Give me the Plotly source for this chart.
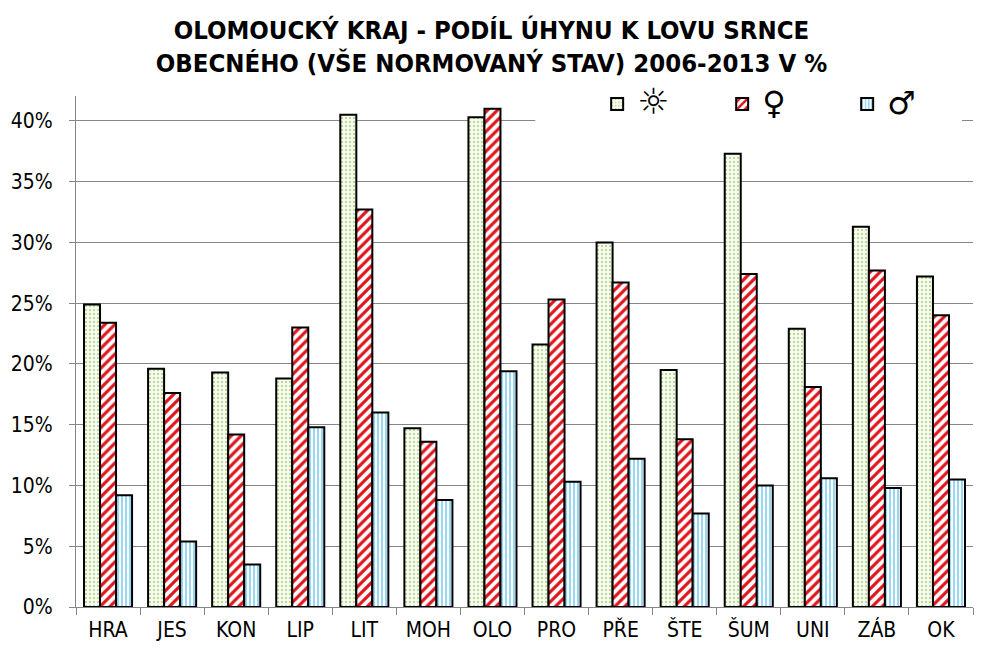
import plotly.graph_objects as go

categories = ["HRA", "JES", "KON", "LIP", "LIT", "MOH", "OLO", "PRO", "PŘE", "ŠTE", "ŠUM", "UNI", "ZÁB", "OK"]
series_names = ["☼", "♀", "♂"]
total = [24.9, 19.6, 19.3, 18.8, 40.5, 14.7, 40.3, 21.6, 30.0, 19.5, 37.3, 22.9, 31.3, 27.2]
female = [23.4, 17.6, 14.2, 23.0, 32.7, 13.6, 41.0, 25.3, 26.7, 13.8, 27.4, 18.1, 27.7, 24.0]
male = [9.2, 5.4, 3.5, 14.8, 16.0, 8.8, 19.4, 10.3, 12.2, 7.7, 10.0, 10.6, 9.8, 10.5]
y_ticks = [0, 5, 10, 15, 20, 25, 30, 35, 40]

FONT = "DejaVu Sans Condensed"

patterns = [
    dict(shape=".", bgcolor="#f8fbec", fgcolor="#a3cf7e", size=4, solidity=0.2, fillmode="replace"),
    dict(shape="/", bgcolor="#ffffff", fgcolor="#e0141c", size=7, solidity=0.45, fillmode="replace"),
    dict(shape="|", bgcolor="#ffffff", fgcolor="#45b8e3", size=4, solidity=0.28, fillmode="replace"),
]
symbol_sizes = [36, 32, 32]

fig = go.Figure()
for name, vals, pat, ss in zip(series_names, [total, female, male], patterns, symbol_sizes):
    fig.add_trace(go.Bar(
        x=categories, y=vals,
        name=f'<span style="font-size:{ss}px">{name}</span>',
        marker=dict(color=pat["bgcolor"], pattern=pat, line=dict(color="black", width=2)),
    ))

fig.update_layout(
    width=983, height=662,
    margin=dict(l=76, r=10, t=96, b=55, autoexpand=False),
    paper_bgcolor="white", plot_bgcolor="white",
    barmode="group", bargap=0.25, bargroupgap=0,
    title=dict(
        text="OLOMOUCKÝ KRAJ - PODÍL ÚHYNU K LOVU SRNCE<br>OBECNÉHO (VŠE NORMOVANÝ STAV) 2006-2013 V %",
        x=0.5, xanchor="center", y=0.941, yanchor="middle",
        font=dict(family=FONT, size=25.5, color="black", weight="bold"),
    ),
    font=dict(family=FONT, size=21, color="black"),
    showlegend=True,
    legend=dict(
        orientation="h", x=0.581, xanchor="left", y=0.984, yanchor="middle",
        bgcolor="rgba(0,0,0,0)", font=dict(family="DejaVu Sans", size=26, color="black"),
        entrywidth=80, entrywidthmode="pixels", itemclick=False,
    ),
    shapes=[dict(type="rect", xref="paper", yref="paper", x0=0.512, x1=0.9877, y0=0.94, y1=1.012,
                 fillcolor="white", line=dict(width=0), layer="above")],
)

fig.update_xaxes(
    showline=True, linecolor="#868686", linewidth=1,
    ticks="outside", tickson="boundaries", ticklen=7, tickcolor="#868686",
    showgrid=False, tickfont=dict(family=FONT, size=21, color="black"),
    ticklabelstandoff=4, tickangle=0,
)
fig.update_yaxes(
    range=[0, 42.05], tickvals=y_ticks, ticktext=[f"{v}%" for v in y_ticks],
    showline=True, linecolor="#868686", linewidth=1,
    ticks="outside", ticklen=6, tickcolor="#868686",
    showgrid=True, gridcolor="#868686", gridwidth=1, zeroline=False,
    tickfont=dict(family=FONT, size=21, color="black"), ticklabelstandoff=12,
)

fig.write_html("out.html")
